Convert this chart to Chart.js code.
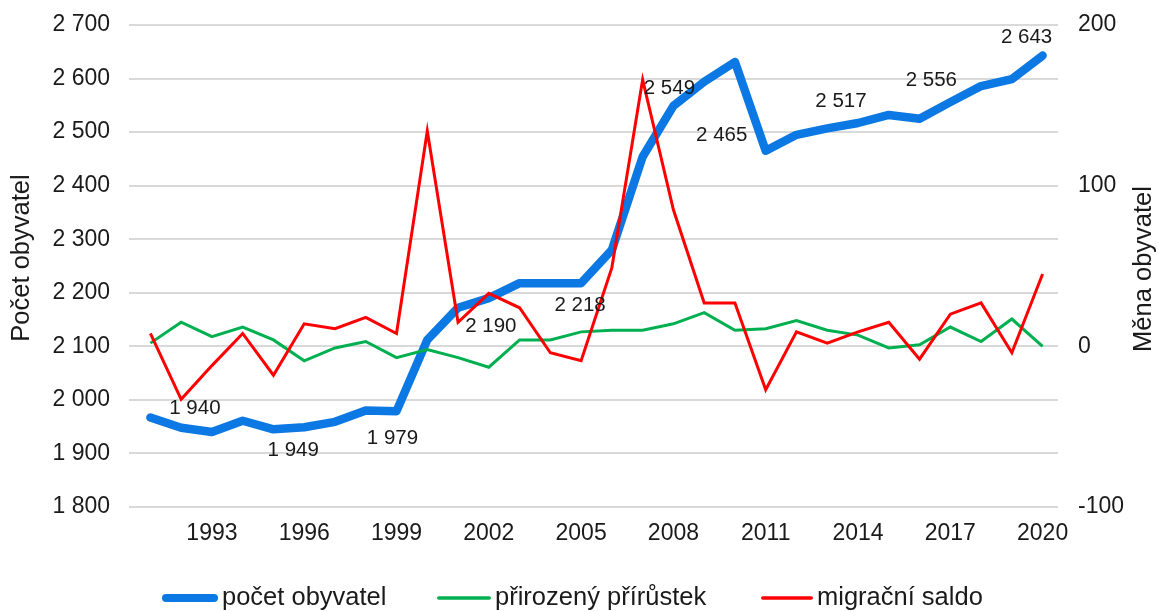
<!DOCTYPE html>
<html lang="cs">
<head>
<meta charset="utf-8">
<title>Počet obyvatel</title>
<script src="https://cdn.jsdelivr.net/npm/chart.js@4/dist/chart.umd.min.js"></script>
<style>
    html, body { margin: 0; padding: 0; background: #fff; }
    #wrap { width: 1158px; height: 612px; }
</style>
</head>
<body>
<div id="wrap"><canvas id="populationChart" width="1158" height="612"></canvas></div>
<script>
// --- data ---
const years = [1991, 1992, 1993, 1994, 1995, 1996, 1997, 1998, 1999, 2000,
    2001, 2002, 2003, 2004, 2005, 2006, 2007, 2008, 2009, 2010,
    2011, 2012, 2013, 2014, 2015, 2016, 2017, 2018, 2019, 2020];

const pocetObyvatel = [1967, 1948, 1940, 1961, 1945, 1949, 1959, 1980, 1979, 2112,
    2172, 2190, 2218, 2218, 2218, 2280, 2454, 2549, 2594, 2631,
    2465, 2495, 2507, 2517, 2532, 2525, 2556, 2586, 2599, 2643];

const prirozenyPrirustek = [2, 15, 6, 12, 4, -9, -1, 3, -7, -2,
    -7, -13, 4, 4, 9, 10, 10, 14, 21, 10,
    11, 16, 10, 7, -1, 1, 12, 3, 17, 0];

const migracniSaldo = [8, -33, -12, 8, -18, 14, 11, 18, 8, 134,
    15, 33, 24, -4, -9, 49, 166, 85, 27, 27,
    -27, 9, 2, 9, 15, -8, 20, 27, -4, 45];

const labeledYears = [1993, 1996, 1999, 2002, 2005, 2008, 2011, 2014, 2017, 2020];

const leftTicks = { min: 1800, max: 2700, step: 100 };
const rightTicks = { min: -100, max: 200, step: 100 };

const FONT = '"Liberation Sans", Arial, sans-serif';
const TEXT = '#1a1a1a';
const BLUE = '#0b78e3';
const GREEN = '#00b050';
const RED = '#ff0000';

function fmt(v) {
    return String(v).replace(/\B(?=(\d{3})+(?!\d))/g, ' ');
}

// posun popisku od bodu (px) - rucne podle predlohy
const labelOffsets = {
    1993: [-17, -24], 1996: [-11, 23], 1999: [-4, 27], 2002: [2, 28], 2005: [-1, 22],
    2008: [-4, -18], 2011: [-44, -16], 2014: [-17, -22], 2017: [-19, -22], 2020: [-16, -18]
};

// popisky hodnot u modre cary
const dataLabels = {
    id: 'dataLabels',
    afterDatasetsDraw(chart) {
        const meta = chart.getDatasetMeta(0);
        const ctx = chart.ctx;
        ctx.save();
        ctx.font = '20.5px ' + FONT;
        ctx.fillStyle = TEXT;
        ctx.textAlign = 'center';
        ctx.textBaseline = 'middle';
        labeledYears.forEach(y => {
            const i = years.indexOf(y);
            const pt = meta.data[i];
            const off = labelOffsets[y] || [0, -20];
            ctx.fillText(fmt(pocetObyvatel[i]), pt.x + off[0], pt.y + off[1]);
        });
        ctx.restore();
    }
};

// nazvy os a legenda
const extras = {
    id: 'extras',
    afterDraw(chart) {
        const ctx = chart.ctx;
        const area = chart.chartArea;
        ctx.save();
        ctx.font = '25.5px ' + FONT;
        ctx.fillStyle = TEXT;
        ctx.textAlign = 'center';
        ctx.textBaseline = 'middle';

        const midY = (area.top + area.bottom) / 2;
        [[22, midY - 8, 'Počet obyvatel'], [1144, midY + 3, 'Měna obyvatel']].forEach(t => {
            ctx.save();
            ctx.translate(t[0], t[1]);
            ctx.rotate(-Math.PI / 2);
            ctx.fillText(t[2], 0, 0);
            ctx.restore();
        });

        // legenda
        const items = [
            { x: 162, w: 56, color: BLUE, width: 8, text: 'počet obyvatel' },
            { x: 437, w: 54, color: GREEN, width: 3.5, text: 'přirozený přírůstek' },
            { x: 761, w: 52, color: RED, width: 3.5, text: 'migrační saldo' }
        ];
        const ly = 598;
        ctx.textAlign = 'left';
        items.forEach(it => {
            ctx.beginPath();
            ctx.lineCap = 'round';
            ctx.strokeStyle = it.color;
            ctx.lineWidth = it.width;
            ctx.moveTo(it.x + it.width / 2, ly);
            ctx.lineTo(it.x + it.w - it.width / 2, ly);
            ctx.stroke();
            ctx.fillText(it.text, it.x + it.w + 4, ly);
        });
        ctx.restore();
    }
};

const ctx = document.getElementById('populationChart').getContext('2d');

new Chart(ctx, {
    type: 'line',
    data: {
        labels: years.map(String),
        datasets: [
            {
                label: 'počet obyvatel',
                data: pocetObyvatel,
                yAxisID: 'y',
                borderColor: BLUE,
                borderWidth: 8.5,
                borderJoinStyle: 'round',
                borderCapStyle: 'round',
                order: 3
            },
            {
                label: 'přirozený přírůstek',
                data: prirozenyPrirustek,
                yAxisID: 'y1',
                borderColor: GREEN,
                borderWidth: 3,
                order: 2
            },
            {
                label: 'migrační saldo',
                data: migracniSaldo,
                yAxisID: 'y1',
                borderColor: RED,
                borderWidth: 3,
                order: 1
            }
        ]
    },
    options: {
        responsive: false,
        animation: false,
        devicePixelRatio: 1,
        layout: { padding: { top: 25, left: 0, right: 0, bottom: 0 } },
        elements: {
            point: { radius: 0, hoverRadius: 0 },
            line: { tension: 0, fill: false }
        },
        plugins: {
            legend: { display: false },
            tooltip: { enabled: false }
        },
        scales: {
            x: {
                offset: true,
                grid: { display: false, drawTicks: false },
                border: { display: false },
                ticks: {
                    autoSkip: false,
                    maxRotation: 0,
                    padding: 13,
                    color: TEXT,
                    font: { family: FONT, size: 23 },
                    callback: function (val, idx) {
                        const y = years[idx];
                        return (y >= 1993 && (y - 1993) % 3 === 0) ? String(y) : '';
                    }
                },
                afterFit(scale) { scale.height = 105; }
            },
            y: {
                position: 'left',
                min: leftTicks.min,
                max: leftTicks.max,
                grid: { color: '#d9d9d9', lineWidth: 2, tickLength: 6 },
                border: { display: false },
                ticks: {
                    stepSize: leftTicks.step,
                    padding: 19,
                    color: TEXT,
                    font: { family: FONT, size: 23 },
                    callback: v => fmt(v)
                },
                afterFit(scale) {
                    scale.width = 135;
                    scale.paddingTop = 0;
                    scale.paddingBottom = 0;
                }
            },
            y1: {
                position: 'right',
                min: rightTicks.min,
                max: rightTicks.max,
                grid: { drawOnChartArea: false, drawTicks: false },
                border: { display: false },
                ticks: {
                    stepSize: rightTicks.step,
                    padding: 20,
                    color: TEXT,
                    font: { family: FONT, size: 23 }
                },
                afterFit(scale) {
                    scale.width = 100;
                    scale.paddingTop = 0;
                    scale.paddingBottom = 0;
                }
            }
        }
    },
    plugins: [dataLabels, extras]
});
</script>
</body>
</html>
